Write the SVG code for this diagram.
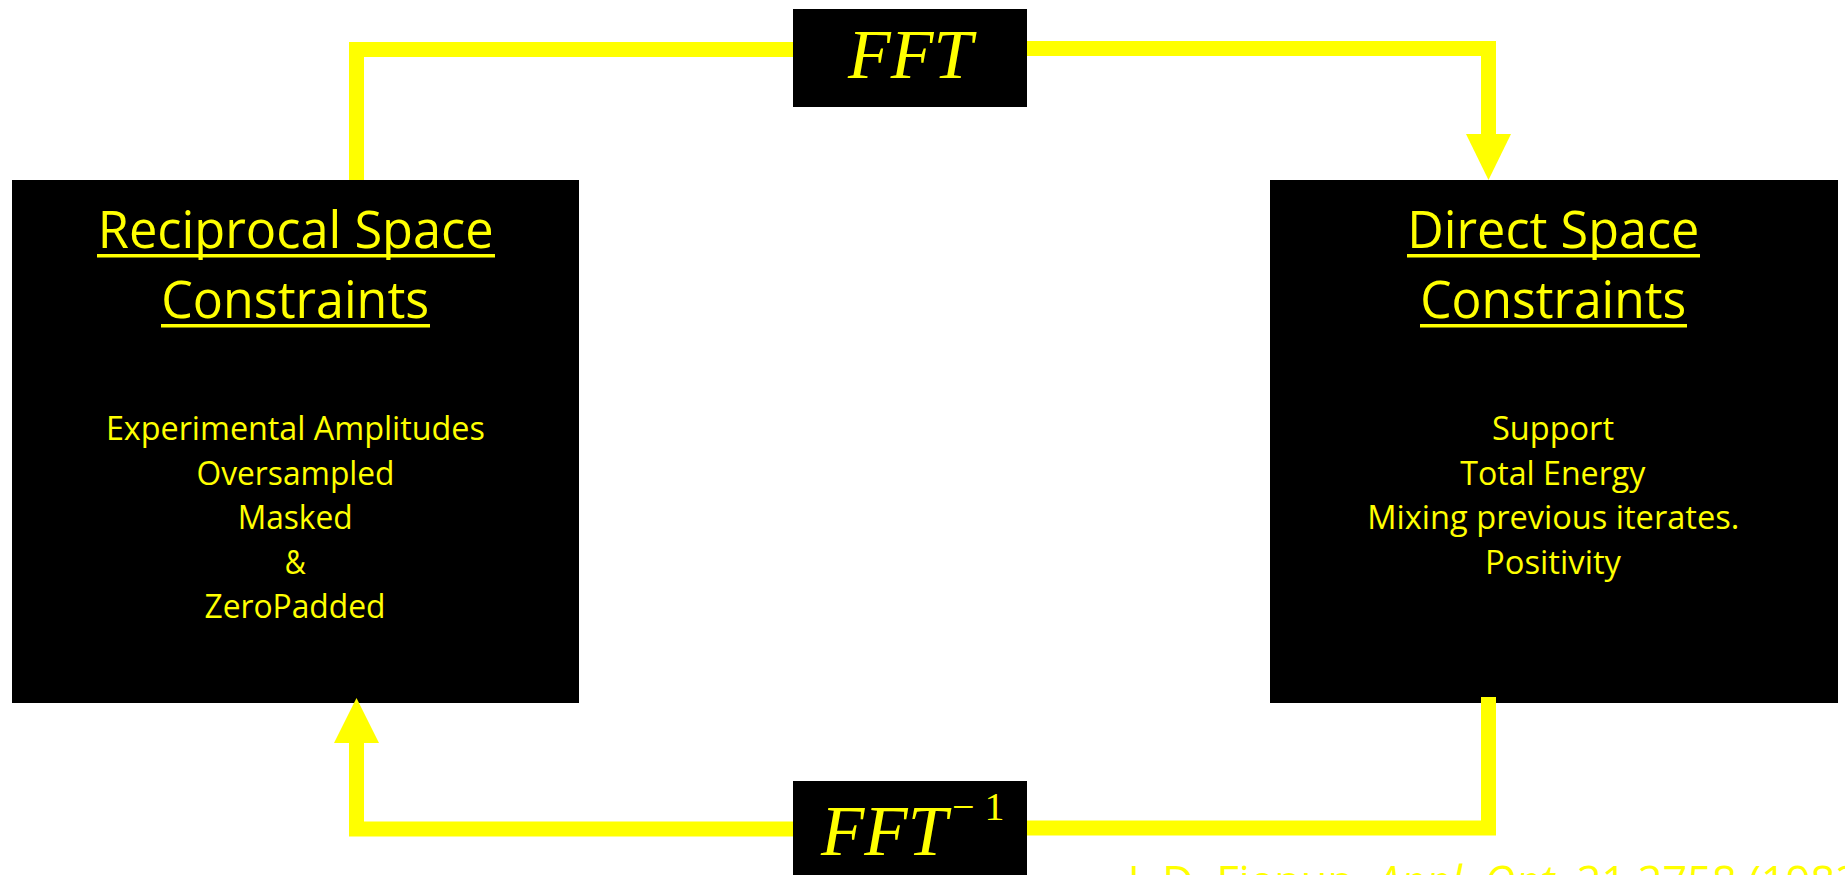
<svg xmlns="http://www.w3.org/2000/svg" width="1845" height="875" viewBox="0 0 1845 875">
<style>
.box{fill:#000}
.t{fill:#FFFF00;font-family:"Open Sans","Liberation Sans",sans-serif}
.title{font-size:51px}
.body{font-size:32.5px}
.ul{fill:#FFFF00}
.math{fill:#FFFF00;font-family:"Liberation Serif","DejaVu Serif",serif;font-style:italic}
.conn{fill:none;stroke:#FFFF00;stroke-width:15;stroke-linejoin:miter;stroke-linecap:butt}
.head{fill:#FFFF00}
</style>
<rect width="1845" height="875" fill="#fff"/>
<g id="reciprocal">
<rect class="box" x="12" y="180" width="567" height="523"/>
<text class="t title" x="97.7" y="248" textLength="396" lengthAdjust="spacingAndGlyphs">Reciprocal Space</text>
<rect class="ul" x="97" y="254" width="398" height="3.5"/>
<text class="t title" x="161.2" y="318" textLength="268" lengthAdjust="spacingAndGlyphs">Constraints</text>
<rect class="ul" x="161" y="324" width="269" height="3.5"/>
<text class="t body" x="105.9" y="440" textLength="379" lengthAdjust="spacingAndGlyphs">Experimental Amplitudes</text>
<text class="t body" x="196.5" y="484.6" textLength="198" lengthAdjust="spacingAndGlyphs">Oversampled</text>
<text class="t body" x="237.7" y="529.2" textLength="115" lengthAdjust="spacingAndGlyphs">Masked</text>
<text class="t body" x="284.8" y="573.8" textLength="21" lengthAdjust="spacingAndGlyphs">&amp;</text>
<text class="t body" x="204.5" y="618.4" textLength="181" lengthAdjust="spacingAndGlyphs">ZeroPadded</text>
</g>
<g id="direct">
<rect class="box" x="1270" y="180" width="568" height="523"/>
<text class="t title" x="1407.3" y="248" textLength="292" lengthAdjust="spacingAndGlyphs">Direct Space</text>
<rect class="ul" x="1407" y="254" width="293" height="3.5"/>
<text class="t title" x="1420.2" y="318" textLength="266" lengthAdjust="spacingAndGlyphs">Constraints</text>
<rect class="ul" x="1420" y="324" width="267" height="3.5"/>
<text class="t body" x="1492" y="440" textLength="122" lengthAdjust="spacingAndGlyphs">Support</text>
<text class="t body" x="1460.3" y="484.6" textLength="185" lengthAdjust="spacingAndGlyphs">Total Energy</text>
<text class="t body" x="1367.3" y="529.2" textLength="372" lengthAdjust="spacingAndGlyphs">Mixing previous iterates.</text>
<text class="t body" x="1485" y="573.8" textLength="136" lengthAdjust="spacingAndGlyphs">Positivity</text>
</g>
<g id="fft">
<rect class="box" x="793" y="9" width="234" height="98"/>
<text class="math" x="848" y="78" font-size="70">FFT</text>
</g>
<g id="ifft">
<rect class="box" x="793" y="781" width="234" height="98"/>
<text class="math" x="821" y="855" font-size="71">FFT<tspan x="952" y="820" font-size="40" font-style="normal">− 1</tspan></text>
</g>
<g id="connectors">
<path class="conn" d="M356.5 180 V49.5 H793"/>
<path class="conn" d="M1027 48.5 H1488.5 V135"/>
<polygon class="head" points="1466,134 1511,134 1488.5,180"/>
<path class="conn" d="M1488.5 697 V828 H1027"/>
<path class="conn" d="M793 829 H356.5 V742"/>
<polygon class="head" points="334,743 379,743 356.5,698"/>
</g>
<g id="citation">
<text class="t" x="1128" y="897" font-size="43" textLength="745" lengthAdjust="spacingAndGlyphs">J. D. Fienup, <tspan font-style="italic">Appl. Opt.</tspan> 21 2758 (1982)</text>
</g>
</svg>
